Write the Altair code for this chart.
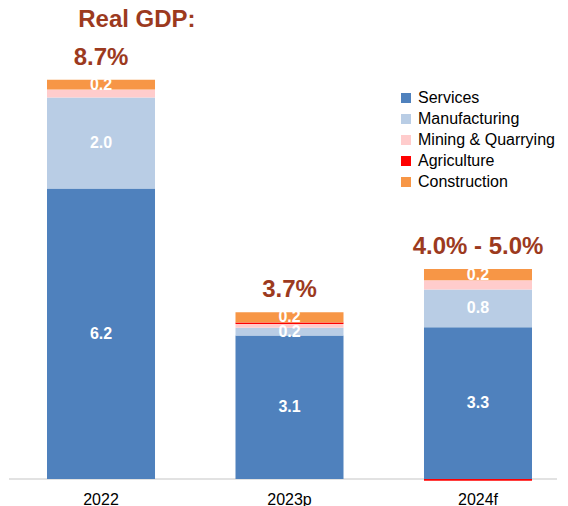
import altair as alt
import pandas as pd

years = ["2022", "2023p", "2024f"]
sectors = ["Services", "Manufacturing", "Mining & Quarrying", "Agriculture", "Construction"]
colors = ["#4F81BD", "#B9CDE5", "#FFCCCC", "#FF0000", "#F79646"]
services = [6.24, 3.08, 3.26]
manufacturing = [1.96, 0.17, 0.81]
mining = [0.17, 0.08, 0.20]
agriculture = [0.0, 0.03, -0.04]
construction = [0.21, 0.22, 0.24]
totals = ["8.7%", "3.7%", "4.0% - 5.0%"]
labelled = ["Services", "Manufacturing", "Construction"]

series = [services, manufacturing, mining, agriculture, construction]
rows = []
for i, yr in enumerate(years):
    for j, s in enumerate(sectors):
        rows.append({"year": yr, "sector": s, "value": series[j][i], "order": j})
df = pd.DataFrame(rows)

tops = [sum(v for v in (s[i] for s in series) if v > 0) for i in range(len(years))]
tot_df = pd.DataFrame({"year": years, "label": totals, "top": tops})
base_df = pd.DataFrame({"zero": [0]})

W = 548
H = 443
xscale = alt.Scale(domain=years, range=[38, 523], paddingInner=0.427, paddingOuter=0)
yscale = alt.Scale(domain=[-0.045, 9.477], nice=False, zero=False)
X = alt.X("year:N", scale=xscale, sort=years,
          axis=alt.Axis(title=None, domain=False, ticks=False, labelAngle=0,
                        labelFontSize=16, labelColor="#000000", labelPadding=10,
                        labelFont="Liberation Sans"))
DARK = "#9C3A1E"

rule = alt.Chart(base_df).mark_rule(color="#D9D9D9", strokeWidth=1.5).encode(
    y=alt.Y("zero:Q", scale=yscale, axis=None), x=alt.value(0), x2=alt.value(W))

base = alt.Chart(df).transform_stack(
    stack="value", groupby=["year"], as_=["y0", "y1"],
    sort=[alt.SortField("order", "ascending")]
).transform_calculate(mid="(datum.y0 + datum.y1) / 2")

bars = base.mark_bar().encode(
    x=X,
    y=alt.Y("y0:Q", scale=yscale, axis=None),
    y2="y1:Q",
    color=alt.Color("sector:N", scale=alt.Scale(domain=sectors, range=colors),
                    legend=alt.Legend(title=None, orient="none", legendX=389, legendY=52,
                                      symbolType="square", symbolSize=100, symbolStrokeWidth=0,
                                      labelFontSize=16, labelFont="Liberation Sans",
                                      labelColor="#000000", rowPadding=5, labelOffset=4,
                                      padding=0)),
)

seg = base.transform_filter(alt.FieldOneOfPredicate(field="sector", oneOf=labelled)).mark_text(
    color="white", fontWeight="bold", fontSize=16, font="Liberation Sans", baseline="middle"
).encode(x=X, y=alt.Y("mid:Q", scale=yscale, axis=None),
         text=alt.Text("value:Q", format=".1f"))

tot = alt.Chart(tot_df).mark_text(
    color=DARK, fontWeight="bold", fontSize=24, font="Liberation Sans", baseline="bottom", dy=-10
).encode(x=X, y=alt.Y("top:Q", scale=yscale, axis=None), text="label:N")

chart = alt.layer(rule, bars, seg, tot).properties(
    width=W, height=H,
    padding={"left": 0, "top": 0, "right": 0, "bottom": 0},
    title=alt.TitleParams("Real GDP:", anchor="start", dx=70, dy=-4, fontSize=24, fontWeight="bold",
                          font="Liberation Sans", color=DARK, offset=2),
).configure_view(stroke=None)

chart.save("out.html", embed_options={"renderer": "svg", "actions": False})
